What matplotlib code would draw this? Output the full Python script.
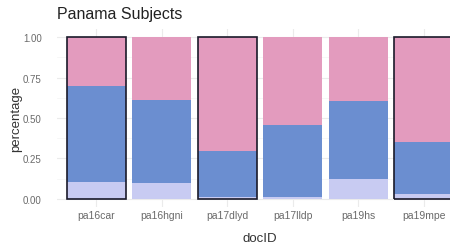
import numpy as np
import matplotlib.pyplot as plt

docs = ['pa16car', 'pa16hgni', 'pa17dlyd', 'pa17lldp', 'pa19hs', 'pa19mpe']
light = [0.105, 0.097, 0.01, 0.01, 0.122, 0.033]
blue = [0.595, 0.517, 0.283, 0.448, 0.484, 0.317]
pink = [1 - a - b for a, b in zip(light, blue)]
outlined = [True, False, True, False, False, True]

colors = ['#c8cbf2', '#6b8ed0', '#e39bbe']

plt.rcParams['font.family'] = ['Liberation Sans', 'DejaVu Sans']
fig = plt.figure(figsize=(4.5, 2.53), dpi=100)
# axes runs past the right edge, the reference is cropped there
ax = fig.add_axes([57 / 450, 1 - 208 / 253, 406 / 450, 178 / 253])

x = np.arange(len(docs))
w = 0.9
ax.bar(x, light, width=w, color=colors[0], zorder=2)
ax.bar(x, blue, width=w, bottom=light, color=colors[1], zorder=2)
ax.bar(x, pink, width=w, bottom=np.array(light) + np.array(blue), color=colors[2], zorder=2)
for i, o in enumerate(outlined):
    if o:
        ax.bar(x[i], 1, width=w, fill=False, edgecolor='#1a1a2a', linewidth=1.2, zorder=3)

ax.set_xlim(-0.6, 5.6)
ax.set_ylim(-0.05, 1.05)
ax.set_xticks(x)
ax.set_xticklabels(docs)
ax.set_yticks([0, 0.25, 0.5, 0.75, 1.0])
ax.set_yticklabels(['0.00', '0.25', '0.50', '0.75', '1.00'])
ax.set_yticks([0.125, 0.375, 0.625, 0.875], minor=True)
ax.grid(True, which='major', color='#ebebeb', linewidth=0.8, zorder=0)
ax.grid(True, which='minor', axis='y', color='#f4f4f4', linewidth=0.5, zorder=0)
ax.tick_params(which='both', length=0, labelsize=7.5, colors='#6a6a6a')
ax.tick_params(axis='x', pad=2)
ax.tick_params(axis='y', labelsize=7, pad=11)
for s in ax.spines.values():
    s.set_visible(False)
ax.set_xlabel('docID', fontsize=9.5, color='#333333', labelpad=9)
ax.set_ylabel('percentage', fontsize=9.5, color='#333333', labelpad=0.5)
fig.text(57 / 450, 1 - 15 / 253, 'Panama Subjects', fontsize=11.5, color='#222222', va='center')

fig.savefig('out.png', dpi=100)
